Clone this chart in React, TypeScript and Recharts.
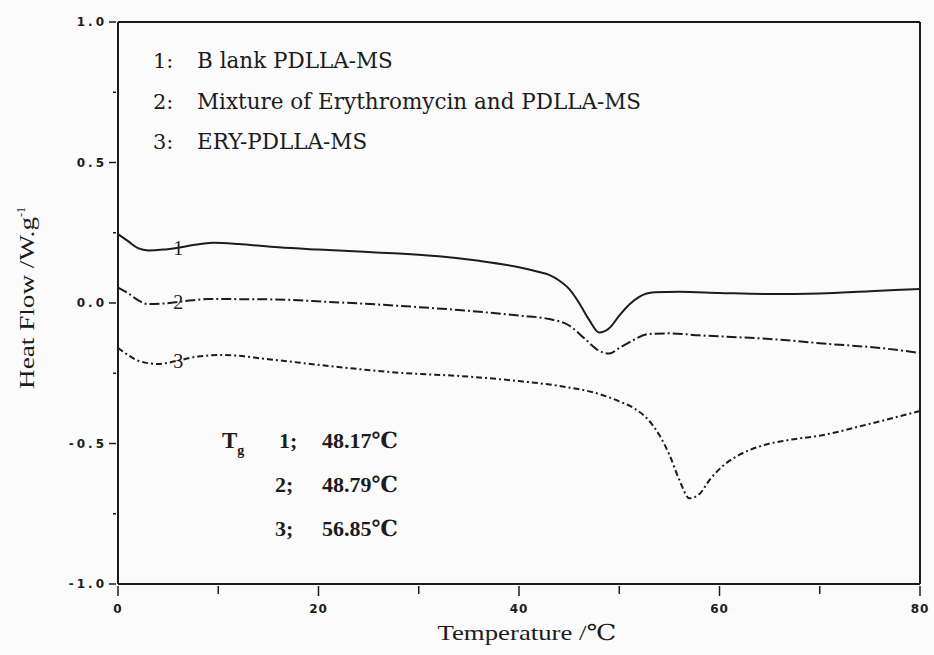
import { LineChart, Line, XAxis, YAxis, ReferenceLine } from 'recharts';

// temperature (°C) and heat flow (W/g)
const temp1 = [0, 1, 2, 3, 4.5, 6, 7.5, 9.5, 12, 16, 20, 24, 28, 32, 36, 40, 42, 43, 44, 45, 46, 47, 48, 49, 50, 51, 52, 53.5, 56, 60, 65, 70, 75, 80];
const flow1 = [0.245, 0.22, 0.195, 0.187, 0.19, 0.197, 0.206, 0.214, 0.21, 0.198, 0.19, 0.183, 0.176, 0.166, 0.15, 0.127, 0.11, 0.1, 0.08, 0.05, 0.0, -0.06, -0.105, -0.09, -0.045, -0.005, 0.022, 0.038, 0.04, 0.036, 0.032, 0.034, 0.042, 0.05];

const temp2 = [0, 1, 2, 3, 4.5, 6, 7.5, 9, 15, 21, 28, 35, 40, 43, 45, 46.5, 48, 49, 50, 51, 53, 55, 58, 65, 71, 76, 80];
const flow2 = [0.055, 0.035, 0.01, -0.004, -0.002, 0.004, 0.01, 0.014, 0.013, 0.004, -0.01, -0.028, -0.045, -0.057, -0.08, -0.125, -0.17, -0.18, -0.16, -0.14, -0.11, -0.108, -0.115, -0.128, -0.146, -0.16, -0.178];

const temp3 = [0, 1, 2, 4, 6, 8, 10.5, 15, 21, 28, 35, 40, 44, 48, 50, 51.5, 53, 54, 55, 56, 57, 58, 59, 60.5, 62, 64.5, 67, 70, 75, 80];
const flow3 = [-0.16, -0.185, -0.205, -0.217, -0.205, -0.19, -0.185, -0.2, -0.224, -0.248, -0.262, -0.278, -0.295, -0.324, -0.35, -0.375, -0.42, -0.47, -0.54, -0.63, -0.695, -0.68, -0.63, -0.575, -0.54, -0.505, -0.487, -0.472, -0.43, -0.384];

const xTicks = [0, 10, 20, 30, 40, 50, 60, 70, 80];
const yTicks = [-1, -0.75, -0.5, -0.25, 0, 0.25, 0.5, 0.75, 1];

const legendNums = ['1:', '2:', '3:'];
const legendNames = ['B lank PDLLA-MS', 'Mixture of Erythromycin and PDLLA-MS', 'ERY-PDLLA-MS'];
const tgNums = ['1;', '2;', '3;'];
const tgValues = ['48.17℃', '48.79℃', '56.85℃'];
const curveTags = ['1', '2', '3'];
const tagTemp = 6;

const ink = '#1c1c1c';
const serif = '"Liberation Serif", "DejaVu Serif", serif';
const slab = '"DejaVu Serif", serif';
const tickFont = '"DejaVu Sans", sans-serif';

function toRows(t: number[], v: number[]) {
  return t.map((x, i) => ({ t: x, v: v[i] }));
}

const series = [
  { rows: toRows(temp1, flow1), dash: undefined, width: 2 },
  { rows: toRows(temp2, flow2), dash: '10 3 2 3', width: 2 },
  { rows: toRows(temp3, flow3), dash: '6 3 2 3', width: 2 },
];

function XTick(props: any) {
  const { x, y, payload } = props;
  const major = payload.value % 20 === 0;
  return (
    <g>
      <line x1={x} x2={x} y1={y - 6} y2={y + (major ? 4 : 2)} stroke={ink} strokeWidth={1.5} />
      {major && (
        <text x={x} y={y + 21} textAnchor="middle" fontFamily={tickFont} fontWeight="bold" fontSize={12} fill={ink} letterSpacing={1}>
          {payload.value}
        </text>
      )}
    </g>
  );
}

function YTick(props: any) {
  const { x, y, payload } = props;
  const major = Math.abs((payload.value * 2) % 1) < 1e-6;
  return (
    <g>
      <line x1={x + 6} x2={x + (major ? -1 : 3)} y1={y} y2={y} stroke={ink} strokeWidth={1.5} />
      {major && (
        <text x={x - 3} y={y + 4} textAnchor="end" fontFamily={tickFont} fontWeight="bold" fontSize={12} fill={ink} letterSpacing={3}>
          {payload.value.toFixed(1)}
        </text>
      )}
    </g>
  );
}

function tagLabel(tag: string, rows: { t: number }[]) {
  return (props: any) => {
    const { x, y, index } = props;
    if (rows[index] == null || Math.abs(rows[index].t - tagTemp) > 1e-6) return <g key={index} />;
    return (
      <text key={index} x={x} y={y + 7} textAnchor="middle" fontFamily={serif} fontSize={20} fill={ink}>
        {tag}
      </text>
    );
  };
}

export default function App() {
  return (
    <div style={{ position: 'absolute', left: 0, top: 0, width: 934, height: 655, background: '#fbfbfb' }}>
      <LineChart width={934} height={655} margin={{ top: 22, right: 14, left: 58, bottom: 41 }}>
        <XAxis
          type="number"
          dataKey="t"
          domain={[0, 80]}
          ticks={xTicks}
          interval={0}
          tick={<XTick />}
          tickLine={false}
          axisLine={{ stroke: ink, strokeWidth: 2 }}
          height={30}
          allowDuplicatedCategory={false}
        />
        <YAxis
          type="number"
          dataKey="v"
          domain={[-1, 1]}
          ticks={yTicks}
          interval={0}
          tick={<YTick />}
          tickLine={false}
          axisLine={{ stroke: ink, strokeWidth: 2 }}
          width={60}
        />
        <ReferenceLine y={1} stroke={ink} strokeWidth={2} ifOverflow="extendDomain" />
        <ReferenceLine x={80} stroke={ink} strokeWidth={2} ifOverflow="extendDomain" />
        {series.map((s, i) => (
          <Line
            key={i}
            data={s.rows}
            dataKey="v"
            type="monotone"
            stroke={ink}
            strokeWidth={s.width}
            strokeDasharray={s.dash}
            dot={false}
            activeDot={false}
            label={tagLabel(curveTags[i], s.rows)}
            isAnimationActive={false}
          />
        ))}
      </LineChart>
      <svg width={934} height={655} style={{ position: 'absolute', left: 0, top: 0, pointerEvents: 'none' }}>
        <text transform="translate(34 298) rotate(-90)" textAnchor="middle" fontFamily={serif} fontSize={20} fill={ink}>
          <tspan textLength={172} lengthAdjust="spacingAndGlyphs">Heat Flow /W.g</tspan>
          <tspan dy={-9} fontSize={12}>-1</tspan>
        </text>
        <text x={527} y={640} textAnchor="middle" fontFamily={serif} fontSize={22} fill={ink} textLength={179} lengthAdjust="spacingAndGlyphs">
          Temperature /℃
        </text>
        {legendNames.map((s, i) => (
          <g key={i}>
            <text x={153} y={68 + i * 40.5} fontFamily={slab} fontSize={21} fill={ink}>
              {legendNums[i]}
            </text>
            <text x={197} y={68 + i * 40.5} fontFamily={slab} fontSize={21.5} fill={ink}>
              {s}
            </text>
          </g>
        ))}
        <text x={222} y={448} fontFamily={serif} fontSize={23} fontWeight="bold" fill={ink}>
          T<tspan dy={7} fontSize={14}>g</tspan>
        </text>
        {tgValues.map((s, i) => (
          <g key={i}>
            <text x={i === 0 ? 279 : 275} y={448 + i * 44} fontFamily={serif} fontSize={22} fontWeight="bold" fill={ink}>
              {tgNums[i]}
            </text>
            <text x={322} y={448 + i * 44} fontFamily={serif} fontSize={22} fontWeight="bold" fill={ink}>
              {s}
            </text>
          </g>
        ))}
      </svg>
    </div>
  );
}
